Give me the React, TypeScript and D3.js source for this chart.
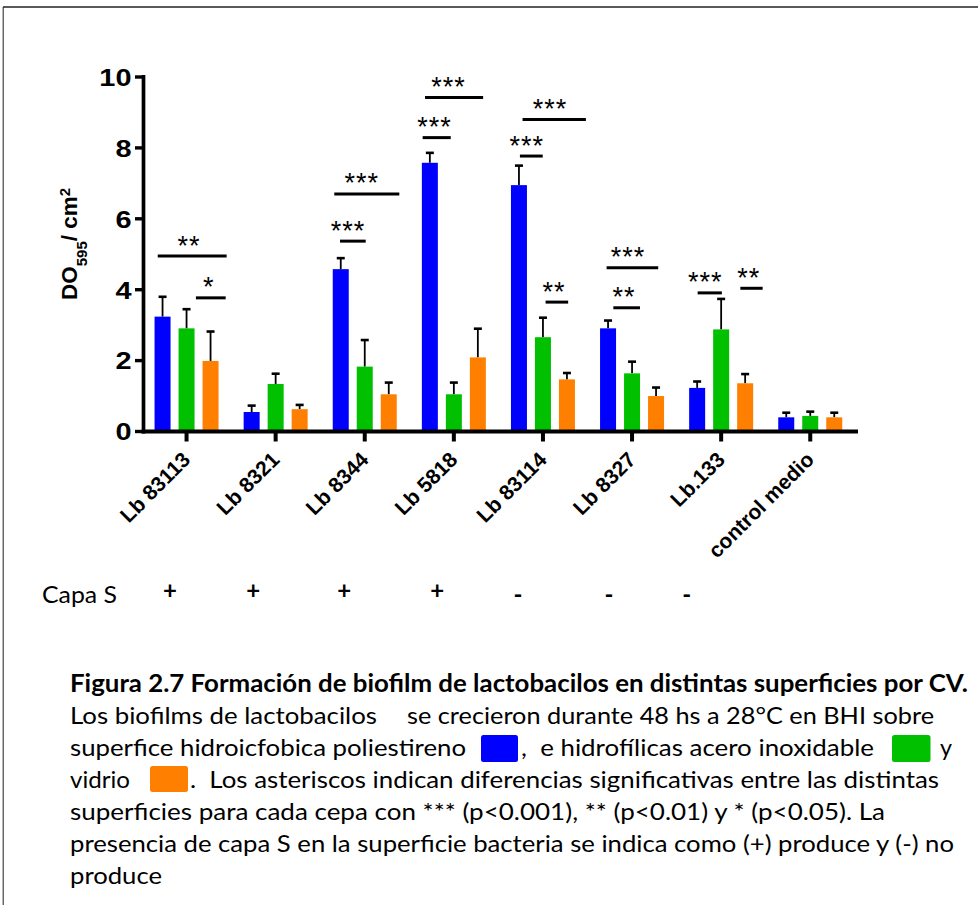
import React from 'react';
import * as d3 from 'd3';

// ---------- data ----------
const categories = ['Lb 83113', 'Lb 8321', 'Lb 8344', 'Lb 5818', 'Lb 83114', 'Lb 8327', 'Lb.133', 'control medio'];
const seriesKeys = ['poliestireno', 'acero', 'vidrio'];
const poliestireno = [3.24, 0.55, 4.58, 7.58, 6.95, 2.91, 1.23, 0.40];
const poliestirenoErr = [0.56, 0.18, 0.31, 0.28, 0.55, 0.22, 0.18, 0.13];
const acero = [2.91, 1.34, 1.83, 1.05, 2.66, 1.64, 2.88, 0.44];
const aceroErr = [0.54, 0.29, 0.75, 0.33, 0.55, 0.33, 0.86, 0.12];
const vidrio = [1.99, 0.63, 1.05, 2.09, 1.47, 1.00, 1.36, 0.40];
const vidrioErr = [0.83, 0.12, 0.33, 0.81, 0.18, 0.24, 0.26, 0.13];
const yTicks = [0, 2, 4, 6, 8, 10];
const capaS = ['+', '+', '+', '+', '-', '-', '-'];
// significance brackets: group index, start/end in bar-slot units, label slot, height (data units)
const brackets = [
  { group: 0, from: -1.20, to: 1.67, at: 0.10, y: 4.95, label: '**' },
  { group: 0, from: 0.39, to: 1.63, at: 0.93, y: 3.77, label: '*' },
  { group: 2, from: -1.27, to: 1.44, at: -0.12, y: 6.70, label: '***' },
  { group: 2, from: -1.03, to: 0.04, at: -0.70, y: 5.37, label: '***' },
  { group: 3, from: -1.20, to: 1.22, at: -0.22, y: 9.42, label: '***' },
  { group: 3, from: -1.30, to: -0.13, at: -0.81, y: 8.29, label: '***' },
  { group: 4, from: -0.85, to: 1.79, at: 0.29, y: 8.80, label: '***' },
  { group: 4, from: -0.96, to: -0.01, at: -0.67, y: 7.77, label: '***' },
  { group: 4, from: 0.11, to: 1.05, at: 0.46, y: 3.65, label: '**' },
  { group: 5, from: -1.06, to: 1.09, at: -0.17, y: 4.62, label: '***' },
  { group: 5, from: -0.78, to: 0.33, at: -0.34, y: 3.49, label: '**' },
  { group: 6, from: -0.98, to: 0.03, at: -0.66, y: 3.91, label: '***' },
  { group: 6, from: 0.80, to: 1.73, at: 1.15, y: 4.04, label: '**' },
];

const seriesValues: Record<string, number[]> = { poliestireno, acero, vidrio };
const seriesErrors: Record<string, number[]> = { poliestireno: poliestirenoErr, acero: aceroErr, vidrio: vidrioErr };

// ---------- styles / layout ----------
const colors: Record<string, string> = { poliestireno: '#0000FF', acero: '#00C000', vidrio: '#FF8000' };
const W = 978, H = 905;
const capaOffsets = [-16.6, -22.4, -20.5, -16.6, -25, -23, -34.5];
const ARIAL = 'Liberation Sans, Arial, sans-serif';
const CAP = 'Lato, Open Sans, sans-serif';

export default function App() {
  const x = d3.scaleBand<string>().domain(categories).range([142, 854.8]).padding(0);
  const slot = d3.scaleLinear().domain([-1, 1]).range([-24, 24]);
  const y = d3.scaleLinear().domain([0, 10]).range([431.5, 77]);
  const barW = 16;
  const cx = (c: string) => (x(c) as number) + x.bandwidth() / 2;
  const axisY = y(0);

  return (
    <svg width={W} height={H} style={{ position: 'absolute', left: 0, top: 0, display: 'block', background: '#fff' }}>
      {/* frame */}
      <line x1={3} y1={7} x2={W} y2={7} stroke="#222" strokeWidth={1.6} />
      <line x1={3.2} y1={7} x2={3.2} y2={H} stroke="#333" strokeWidth={1.1} />

      {/* bars */}
      {categories.map((c, i) =>
        seriesKeys.map((k, j) => {
          const v = seriesValues[k][i];
          const e = seriesErrors[k][i];
          const xc = cx(c) + slot(j - 1);
          return (
            <g key={c + k}>
              <line x1={xc} x2={xc} y1={y(v)} y2={y(v + e)} stroke="#000" strokeWidth={1.8} />
              <line x1={xc - 4} x2={xc + 4} y1={y(v + e)} y2={y(v + e)} stroke="#000" strokeWidth={2.6} />
              <rect x={xc - barW / 2} y={y(v)} width={barW} height={axisY - y(v)} fill={colors[k]} />
            </g>
          );
        })
      )}

      {/* y axis */}
      <line x1={143.5} x2={143.5} y1={y(10) - 2} y2={axisY + 2} stroke="#000" strokeWidth={3.7} />
      {yTicks.map((t) => (
        <g key={t}>
          <line x1={135} x2={143.5} y1={y(t)} y2={y(t)} stroke="#000" strokeWidth={3.4} />
          <text
            transform={`translate(131.5,${y(t) + 8.8}) scale(1.18,1)`}
            textAnchor="end"
            fontFamily={ARIAL}
            fontWeight="bold"
            fontSize={24.5}
            fill="#000"
          >
            {t}
          </text>
        </g>
      ))}
      <text
        transform={`translate(76.5,300) rotate(-90)`}
        fontFamily={ARIAL}
        fontWeight="bold"
        fontSize={22.5}
        fill="#000"
      >
        DO<tspan fontSize={15} dy={10}>595</tspan>
        <tspan dy={-10}>/ cm</tspan>
        <tspan fontSize={15} dy={-7}>2</tspan>
      </text>

      {/* x axis */}
      <line x1={141.7} x2={858} y1={axisY} y2={axisY} stroke="#000" strokeWidth={4} />
      {categories.map((c) => (
        <g key={c}>
          <line x1={cx(c)} x2={cx(c)} y1={axisY} y2={axisY + 10} stroke="#000" strokeWidth={4} />
          <text
            transform={`translate(${cx(c) + 5},461) rotate(-45)`}
            textAnchor="end"
            fontFamily={ARIAL}
            fontWeight="bold"
            fontSize={21}
            fill="#000"
          >
            {c}
          </text>
        </g>
      ))}

      {/* significance brackets */}
      {brackets.map((b, i) => {
        const c0 = cx(categories[b.group]);
        const ly = y(b.y);
        return (
          <g key={i}>
            <line x1={c0 + slot(b.from)} x2={c0 + slot(b.to)} y1={ly} y2={ly} stroke="#000" strokeWidth={3} />
            <text
              x={c0 + slot(b.at)}
              y={ly - 1.5}
              textAnchor="middle"
              fontFamily={ARIAL}
              fontSize={27}
              letterSpacing={1}
              fill="#000"
            >
              {b.label}
            </text>
          </g>
        );
      })}

      {/* Capa S row */}
      <text x={42} y={603} fontFamily={CAP} fontSize={24} textLength={75} lengthAdjust="spacingAndGlyphs" fill="#000">
        Capa S
      </text>
      {capaS.map((s, i) => (
        <text
          key={i}
          x={cx(categories[i]) + capaOffsets[i]}
          y={s === '+' ? 598.5 : 602.5}
          textAnchor="middle"
          fontFamily={CAP}
          fontWeight="bold"
          fontSize={24}
          fill="#000"
        >
          {s}
        </text>
      ))}

      {/* caption */}
      <g fontFamily={CAP} fontSize={24} fill="#000" style={{ whiteSpace: 'pre' }}>
        <text x={70} y={692} fontWeight="bold" textLength={898} lengthAdjust="spacingAndGlyphs">
          Figura 2.7 Formación de biofilm de lactobacilos en distintas superficies por CV.
        </text>
        <text x={70} y={724} textLength={307} lengthAdjust="spacingAndGlyphs">Los biofilms de lactobacilos</text>
        <text x={407} y={724} textLength={527} lengthAdjust="spacingAndGlyphs">se crecieron durante 48 hs a 28°C en BHI sobre</text>
        <text x={70} y={756} textLength={396} lengthAdjust="spacingAndGlyphs">superfice hidroicfobica poliestireno</text>
        <rect x={481} y={735} width={37} height={27} rx={2.5} fill={colors.poliestireno} />
        <text x={521} y={756} textLength={353} lengthAdjust="spacingAndGlyphs">{',\u00a0\u00a0e hidrofílicas acero inoxidable'}</text>
        <rect x={892} y={735} width={38.5} height={27} rx={2.5} fill={colors.acero} />
        <text x={940} y={756} textLength={12} lengthAdjust="spacingAndGlyphs">y</text>
        <text x={70} y={788} textLength={60} lengthAdjust="spacingAndGlyphs">vidrio</text>
        <rect x={150} y={766} width={38} height={26} rx={2.5} fill={colors.vidrio} />
        <text x={190} y={788} textLength={749} lengthAdjust="spacingAndGlyphs">
          {'.\u00a0\u00a0Los asteriscos indican diferencias significativas entre las distintas'}
        </text>
        <text x={70} y={820} textLength={815} lengthAdjust="spacingAndGlyphs">
          superficies para cada cepa con *** (p&lt;0.001), ** (p&lt;0.01) y * (p&lt;0.05). La
        </text>
        <text x={70} y={852} textLength={884} lengthAdjust="spacingAndGlyphs">
          presencia de capa S en la superficie bacteria se indica como (+) produce y (-) no
        </text>
        <text x={70} y={884} textLength={92} lengthAdjust="spacingAndGlyphs">produce</text>
      </g>
    </svg>
  );
}
